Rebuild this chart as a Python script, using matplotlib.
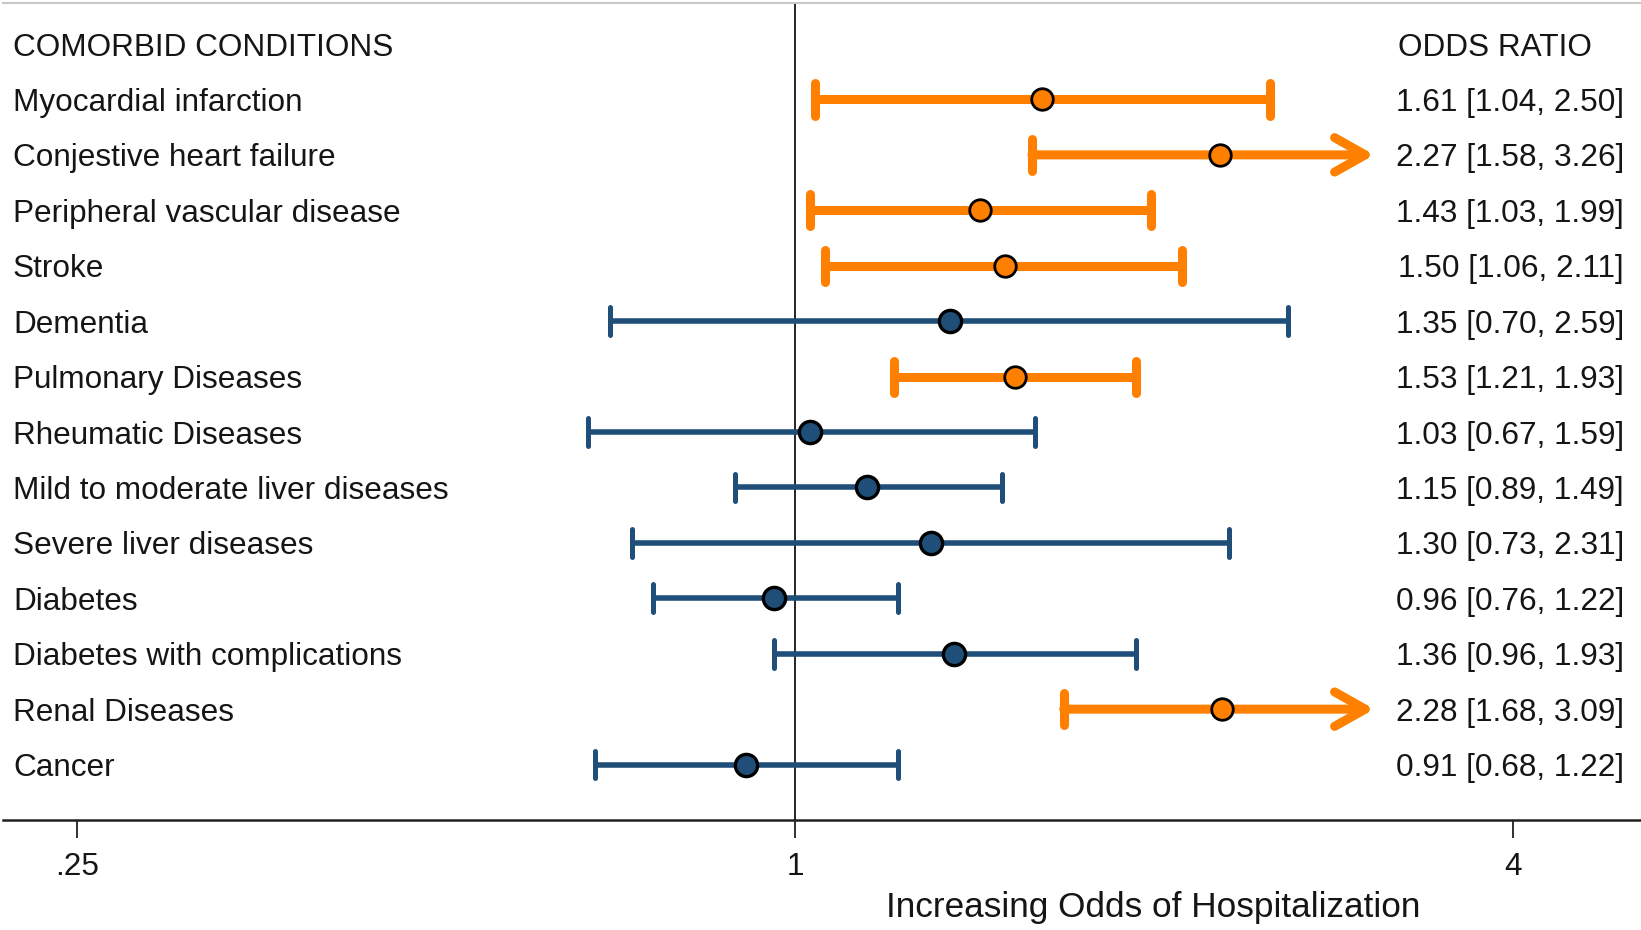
import numpy as np
import matplotlib
matplotlib.use("Agg")
import matplotlib.pyplot as plt
from matplotlib.transforms import blended_transform_factory

# ---- data -------------------------------------------------------------
conditions = [
    "Myocardial infarction",
    "Conjestive heart failure",
    "Peripheral vascular disease",
    "Stroke",
    "Dementia",
    "Pulmonary Diseases",
    "Rheumatic Diseases",
    "Mild to moderate liver diseases",
    "Severe liver diseases",
    "Diabetes",
    "Diabetes with complications",
    "Renal Diseases",
    "Cancer",
]
odds_ratio = [1.61, 2.27, 1.43, 1.50, 1.35, 1.53, 1.03, 1.15, 1.30, 0.96, 1.36, 2.28, 0.91]
ci_lower = [1.04, 1.58, 1.03, 1.06, 0.70, 1.21, 0.67, 0.89, 0.73, 0.76, 0.96, 1.68, 0.68]
ci_upper = [2.50, 3.26, 1.99, 2.11, 2.59, 1.93, 1.59, 1.49, 2.31, 1.22, 1.93, 3.09, 1.22]

tick_values = [0.25, 1, 4]
tick_labels = [".25", "1", "4"]
ci_display_max = 3.0    # intervals reaching past this are cut and drawn as arrows
arrow_tip = 3.06        # where the arrow head ends

# ---- style ------------------------------------------------------------
ORANGE = "#ff8000"
BLUE = "#1f4e79"
TEXT = "#151515"
FONT = "Liberation Sans"
FS = 22.7

plt.rcParams["font.family"] = [FONT, "DejaVu Sans"]

fig = plt.figure(figsize=(16.41, 9.30), dpi=100)
W, H = 1641, 930
ax = fig.add_axes([3 / W, 1 - 820 / H, 1 - 3 / W, (820 - 3) / H])

ax.set_xscale("log", base=2)
ax.set_xlim(0.2168, 5.12)
ax.set_ylim(13.0, -1.74)

for i, (lab, orv, lo, hi) in enumerate(zip(conditions, odds_ratio, ci_lower, ci_upper)):
    significant = lo > 1
    col = ORANGE if significant else BLUE
    lw = 6.5 if significant else 4.0
    cap_h = 0.29 if significant else 0.25
    cap_lw = 6.5 if significant else 3.6
    if hi > ci_display_max:
        ax.annotate(
            "", xy=(arrow_tip, i), xytext=(lo, i),
            arrowprops=dict(arrowstyle="->,head_length=1.1,head_width=0.62",
                            mutation_scale=20, lw=lw, color=col,
                            shrinkA=0, shrinkB=0,
                            capstyle="round", joinstyle="round"),
            zorder=2,
        )
    else:
        ax.plot([lo, hi], [i, i], color=col, lw=lw, solid_capstyle="butt", zorder=2)
        ax.plot([hi, hi], [i - cap_h, i + cap_h], color=col, lw=cap_lw,
                solid_capstyle="round", zorder=2)
    ax.plot([lo, lo], [i - cap_h, i + cap_h], color=col, lw=cap_lw,
            solid_capstyle="round", zorder=2)
    ax.plot([orv], [i], "o", ms=15.5 if significant else 16,
            mfc=col, mec="black", mew=2.0 if significant else 2.4, zorder=3)

# reference line at OR = 1
ax.axvline(1, color="black", lw=1.2, zorder=1)

# labels
tl = blended_transform_factory(fig.transFigure, ax.transData)
ax.text(13 / W, -1, "COMORBID CONDITIONS", transform=tl, ha="left",
        va="center_baseline", fontsize=FS, color=TEXT)
ax.text(1398 / W, -1, "ODDS RATIO", transform=tl, ha="left",
        va="center_baseline", fontsize=FS, color=TEXT)
for i, (lab, orv, lo, hi) in enumerate(zip(conditions, odds_ratio, ci_lower, ci_upper)):
    ax.text(13 / W, i, lab, transform=tl, ha="left", va="center_baseline",
            fontsize=FS, color=TEXT)
    ax.text(1624 / W, i, f"{orv:.2f} [{lo:.2f}, {hi:.2f}]", transform=tl,
            ha="right", va="center_baseline", fontsize=FS, color=TEXT)

# axes decoration
ax.set_yticks([])
ax.set_xticks(tick_values)
ax.set_xticklabels(tick_labels, fontsize=FS, color=TEXT)
ax.xaxis.set_minor_locator(matplotlib.ticker.NullLocator())
ax.tick_params(axis="x", length=13, width=1.3, pad=10, color="#202020")
for side in ("left", "right"):
    ax.spines[side].set_visible(False)
ax.spines["top"].set_color("#c8c8c8")
ax.spines["top"].set_linewidth(1.5)
ax.spines["bottom"].set_color("#202020")
ax.spines["bottom"].set_linewidth(1.8)

fig.text(1153 / W, 1 - 907 / H, "Increasing Odds of Hospitalization",
         ha="center", va="center", fontsize=25.3, color=TEXT)

fig.savefig("out.png", dpi=100, facecolor="white")
